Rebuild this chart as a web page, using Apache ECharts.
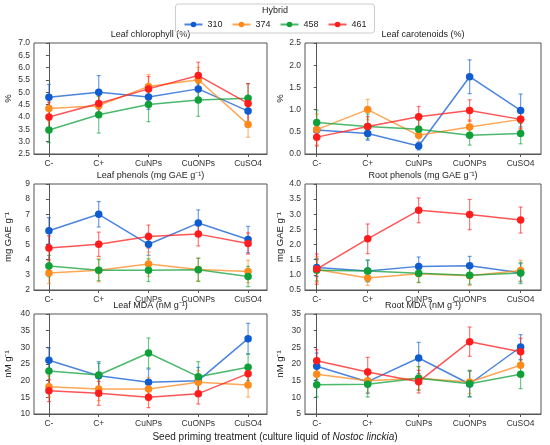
<!DOCTYPE html>
<html>
<head>
<meta charset="utf-8">
<script src="https://cdn.jsdelivr.net/npm/echarts@6/dist/echarts.min.js"></script>
<style>
  html, body { margin: 0; padding: 0; background: #fff; }
  #chart { width: 550px; height: 445px; }
</style>
</head>
<body>
<div id="chart"></div>
<script>
var categories = ['C-', 'C+', 'CuNPs', 'CuONPs', 'CuSO4'];
var hybrids = ['310', '374', '458', '461'];
var colors = ['#0f5bd0', '#ff8a1c', '#10a03a', '#ff1c1c'];

// rows: 310, 374, 458, 461
var chlMean = [
  [4.80, 5.00, 4.81, 5.14, 4.24],
  [4.34, 4.46, 5.24, 5.51, 3.70],
  [3.47, 4.09, 4.51, 4.69, 4.76],
  [4.00, 4.55, 5.14, 5.68, 4.55]
];
var chlErr = [
  [0.52, 0.68, 0.50, 0.50, 0.45],
  [0.50, 0.45, 0.48, 0.50, 0.52],
  [0.51, 0.74, 0.70, 0.66, 0.60],
  [0.60, 0.50, 0.50, 0.54, 0.80]
];

var carMean = [
  [0.54, 0.46, 0.18, 1.74, 0.98],
  [0.55, 1.00, 0.42, 0.61, 0.78],
  [0.71, 0.62, 0.56, 0.42, 0.46],
  [0.38, 0.62, 0.84, 0.98, 0.78]
];
var carErr = [
  [0.20, 0.15, 0.09, 0.38, 0.37],
  [0.35, 0.23, 0.20, 0.16, 0.20],
  [0.28, 0.28, 0.20, 0.22, 0.23],
  [0.20, 0.22, 0.23, 0.24, 0.22]
];

var lpMean = [
  [5.91, 7.00, 5.02, 6.42, 5.33],
  [3.13, 3.31, 3.71, 3.36, 3.22],
  [3.58, 3.31, 3.31, 3.33, 2.89],
  [4.78, 5.02, 5.53, 5.69, 5.07]
];
var lpErr = [
  [0.87, 0.84, 0.73, 0.87, 0.87],
  [0.70, 0.78, 0.80, 0.75, 0.74],
  [0.70, 0.69, 0.75, 0.77, 0.67],
  [0.80, 0.80, 0.76, 0.78, 0.70]
];

var rpMean = [
  [1.24, 1.13, 1.28, 1.30, 1.07],
  [1.18, 0.90, 1.04, 0.97, 1.14],
  [1.15, 1.13, 1.05, 0.99, 1.06],
  [1.19, 2.19, 3.13, 2.99, 2.81]
];
var rpErr = [
  [0.30, 0.35, 0.31, 0.31, 0.30],
  [0.42, 0.25, 0.30, 0.32, 0.34],
  [0.35, 0.36, 0.30, 0.30, 0.35],
  [0.50, 0.49, 0.41, 0.50, 0.43]
];

var lmMean = [
  [26.1, 21.5, 19.5, 20.0, 32.6],
  [18.2, 17.5, 17.5, 19.5, 18.7],
  [22.9, 21.7, 28.3, 21.2, 24.0],
  [17.0, 16.2, 15.0, 16.1, 22.1]
];
var lmErr = [
  [3.7, 4.2, 4.0, 4.0, 4.6],
  [3.2, 3.5, 3.5, 3.5, 3.6],
  [3.8, 3.5, 4.5, 4.5, 4.0],
  [3.3, 3.6, 3.1, 3.1, 2.7]
];

var rmMean = [
  [19.3, 14.7, 21.8, 14.0, 25.1],
  [16.9, 15.0, 15.7, 14.6, 19.6],
  [13.8, 13.9, 15.7, 14.1, 16.9],
  [21.0, 17.6, 14.7, 26.7, 23.7]
];
var rmErr = [
  [4.0, 3.5, 4.7, 3.8, 3.7],
  [3.5, 3.5, 3.5, 3.5, 3.5],
  [3.7, 3.8, 3.5, 4.0, 4.3],
  [3.3, 4.4, 3.4, 4.4, 4.0]
];

var panels = [
  { title: 'Leaf chlorophyll (%)', yName: '%', mean: chlMean, err: chlErr, min: 2.5, max: 7, step: 0.5, dec: 1 },
  { title: 'Leaf carotenoids (%)', yName: '%', mean: carMean, err: carErr, min: 0, max: 2.5, step: 0.5, dec: 1 },
  { title: 'Leaf phenols (mg GAE g⁻¹)', yName: 'mg GAE g⁻¹', mean: lpMean, err: lpErr, min: 2, max: 9, step: 1, dec: 0 },
  { title: 'Root phenols (mg GAE g⁻¹)', yName: 'mg GAE g⁻¹', mean: rpMean, err: rpErr, min: 0.5, max: 4, step: 0.5, dec: 1 },
  { title: 'Leaf MDA (nM g⁻¹)', yName: 'nM g⁻¹', mean: lmMean, err: lmErr, min: 10, max: 40, step: 5, dec: 0 },
  { title: 'Root MDA (nM g⁻¹)', yName: 'nM g⁻¹', mean: rmMean, err: rmErr, min: 5, max: 35, step: 5, dec: 0 }
];

var colLeft = [34, 305], colWidth = [233, 236];
var xMin = [-0.3, -0.23], xMax = [4.38, 4.4];
var rowTop = [43, 184, 314], rowHeight = [111, 106, 100];
var FONT = '"Liberation Sans", Arial, sans-serif';

var chart = echarts.init(document.getElementById('chart'));

var grids = [], xAxes = [], yAxes = [], series = [], graphics = [];

panels.forEach(function (p, k) {
  var col = k % 2, row = Math.floor(k / 2);
  grids.push({
    left: colLeft[col], top: rowTop[row], width: colWidth[col], height: rowHeight[row],
    show: true, borderColor: '#555', borderWidth: 1, backgroundColor: '#fff'
  });
  xAxes.push({
    type: 'value', gridIndex: k, min: xMin[col], max: xMax[col],
    splitLine: { show: false },
    axisLine: { show: true, lineStyle: { color: '#555' } },
    axisTick: { show: true, customValues: [0, 1, 2, 3, 4], length: 3, lineStyle: { color: '#555' } },
    axisLabel: {
      customValues: [0, 1, 2, 3, 4], fontSize: 8.5, color: '#333', fontFamily: FONT, margin: 5,
      formatter: function (v) { return categories[Math.round(v)]; }
    }
  });
  yAxes.push({
    type: 'value', gridIndex: k, min: p.min, max: p.max, interval: p.step,
    name: p.yName, nameLocation: 'middle', nameGap: col === 0 ? 21 : 20,
    nameTextStyle: { fontSize: 9.5, color: '#222', fontFamily: FONT },
    splitLine: { show: false },
    axisLine: { show: true, lineStyle: { color: '#555' } },
    axisTick: { show: true, length: 3, lineStyle: { color: '#555' } },
    axisLabel: {
      fontSize: 8.5, color: '#333', fontFamily: FONT, margin: 4,
      formatter: function (v) { return v.toFixed(p.dec); }
    }
  });
  graphics.push({
    type: 'text', x: colLeft[col] + colWidth[col] / 2, y: rowTop[row] - 8,
    style: { text: p.title, font: '9px ' + FONT, fill: '#222', align: 'center', verticalAlign: 'middle' }
  });

  hybrids.forEach(function (h, s) {
    var lineData = [], errData = [];
    for (var i = 0; i < categories.length; i++) {
      lineData.push([i, p.mean[s][i]]);
      errData.push([i, p.mean[s][i], p.err[s][i]]);
    }
    series.push({
      name: h, type: 'line', xAxisIndex: k, yAxisIndex: k, data: lineData,
      symbol: 'circle', symbolSize: 7.5, z: 3 + s,
      lineStyle: { color: colors[s], width: 1.5, opacity: 0.75 },
      itemStyle: { color: colors[s] },
      emphasis: { disabled: true }
    });
    series.push({
      name: h, type: 'custom', xAxisIndex: k, yAxisIndex: k, data: errData, z: 2,
      renderItem: function (params, api) {
        var x = api.value(0), y = api.value(1), e = api.value(2);
        var a = api.coord([x, y + e]), b = api.coord([x, y - e]);
        var cap = 2;
        var st = { stroke: colors[s], lineWidth: 1.2, opacity: 0.6 };
        return {
          type: 'group', children: [
            { type: 'line', shape: { x1: a[0], y1: a[1], x2: b[0], y2: b[1] }, style: st },
            { type: 'line', shape: { x1: a[0] - cap, y1: a[1], x2: a[0] + cap, y2: a[1] }, style: st },
            { type: 'line', shape: { x1: b[0] - cap, y1: b[1], x2: b[0] + cap, y2: b[1] }, style: st }
          ]
        };
      }
    });
  });
});

graphics.push({
  type: 'text', x: 275, y: 11,
  style: { text: 'Hybrid', font: '9px ' + FONT, fill: '#222', align: 'center', verticalAlign: 'middle' }
});
graphics.push({
  type: 'text', x: 275, y: 437,
  style: {
    text: 'Seed priming treatment (culture liquid of {i|Nostoc linckia})',
    font: '10px ' + FONT, fill: '#222', align: 'center', verticalAlign: 'middle',
    rich: { i: { fontStyle: 'italic', fontSize: 10, fontFamily: FONT, fill: '#222' } }
  }
});

chart.setOption({
  animation: false,
  textStyle: { fontFamily: FONT },
  legend: {
    data: hybrids, left: 'center', top: 4,
    padding: [16, 8, 4, 8], itemGap: 9, itemWidth: 18, itemHeight: 7,
    borderColor: '#ccc', borderWidth: 1, borderRadius: 3,
    textStyle: { fontSize: 9, color: '#222', fontFamily: FONT }
  },
  grid: grids,
  xAxis: xAxes,
  yAxis: yAxes,
  series: series,
  graphic: graphics
});
</script>
</body>
</html>
